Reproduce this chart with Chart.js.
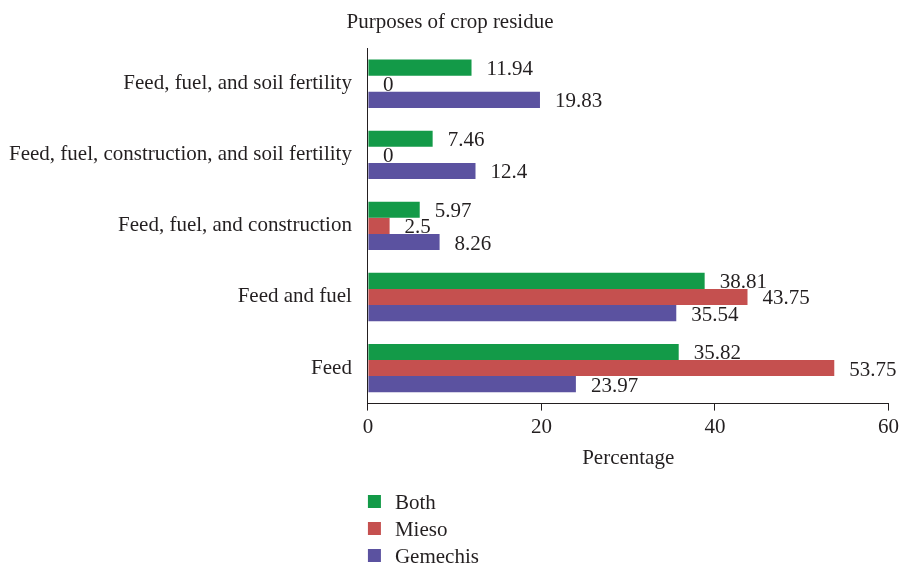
<!DOCTYPE html>
<html>
<head>
<meta charset="utf-8">
<script src="https://cdn.jsdelivr.net/npm/chart.js@4.4.1/dist/chart.umd.min.js"></script>
<style>
  html, body { margin: 0; padding: 0; background: #fff; }
  #wrap { width: 903px; height: 567px; }
</style>
</head>
<body>
<div id="wrap"><canvas id="chart" width="903" height="567"></canvas></div>
<script>
// 数据
const categories = [
    'Feed, fuel, and soil fertility',
    'Feed, fuel, construction, and soil fertility',
    'Feed, fuel, and construction',
    'Feed and fuel',
    'Feed'
];
const bothValues = [11.94, 7.46, 5.97, 38.81, 35.82];
const miesoValues = [0, 0, 2.5, 43.75, 53.75];
const gemechisValues = [19.83, 12.4, 8.26, 35.54, 23.97];
const xTicks = [0, 20, 40, 60];

const FONT = '"Liberation Serif", "DejaVu Serif", serif';
const TEXT = '#231f20';
const SIZE = 21;

// 数值标签 + 竖排图例
const labelPlugin = {
    id: 'barLabels',
    afterDatasetsDraw(chart) {
        const ctx = chart.ctx;
        ctx.save();
        ctx.font = SIZE + 'px ' + FONT;
        ctx.fillStyle = TEXT;
        ctx.textAlign = 'left';
        ctx.textBaseline = 'middle';
        chart.data.datasets.forEach((ds, i) => {
            chart.getDatasetMeta(i).data.forEach((bar, j) => {
                ctx.fillText(String(ds.data[j]), bar.x + 15, bar.y + 2);
            });
        });

        // 图例
        const left = chart.chartArea.left;
        chart.data.datasets.forEach((ds, i) => {
            const y = 502 + i * 27;
            ctx.fillStyle = ds.backgroundColor;
            ctx.fillRect(left, y - 7, 13, 13);
            ctx.fillStyle = TEXT;
            ctx.fillText(ds.label, left + 27, y + 1);
        });
        ctx.restore();
    }
};

const ctx = document.getElementById('chart').getContext('2d');
const chart = new Chart(ctx, {
    type: 'bar',
    data: {
        labels: categories,
        datasets: [
            { label: 'Both', data: bothValues, backgroundColor: 'rgb(19, 154, 72)' },
            { label: 'Mieso', data: miesoValues, backgroundColor: 'rgb(197, 80, 79)' },
            { label: 'Gemechis', data: gemechisValues, backgroundColor: 'rgb(91, 82, 160)' }
        ]
    },
    options: {
        indexAxis: 'y',
        responsive: false,
        animation: false,
        barPercentage: 1.0,
        categoryPercentage: 0.68,
        layout: {
            padding: { top: 0, right: 4, bottom: 96, left: 1 }
        },
        scales: {
            x: {
                min: 0,
                max: 60,
                afterBuildTicks: (axis) => { axis.ticks = xTicks.map(v => ({ value: v })); },
                grid: {
                    display: true,
                    drawOnChartArea: false,
                    drawTicks: true,
                    tickLength: 7,
                    color: TEXT
                },
                border: { display: true, color: TEXT, width: 1 },
                ticks: {
                    color: TEXT,
                    font: { family: FONT, size: SIZE },
                    padding: 4
                },
                title: {
                    display: true,
                    text: 'Percentage',
                    color: TEXT,
                    font: { family: FONT, size: SIZE },
                    padding: { top: 2, bottom: 0 }
                }
            },
            y: {
                grid: { display: false },
                border: { display: true, color: TEXT, width: 1 },
                ticks: {
                    color: TEXT,
                    font: { family: FONT, size: SIZE },
                    padding: 8
                }
            }
        },
        plugins: {
            legend: { display: false },
            tooltip: { enabled: false },
            title: {
                display: true,
                text: 'Purposes of crop residue',
                color: TEXT,
                font: { family: FONT, size: SIZE, weight: 'normal' },
                padding: { top: 10, bottom: 13 }
            }
        }
    },
    plugins: [labelPlugin]
});
</script>
</body>
</html>
